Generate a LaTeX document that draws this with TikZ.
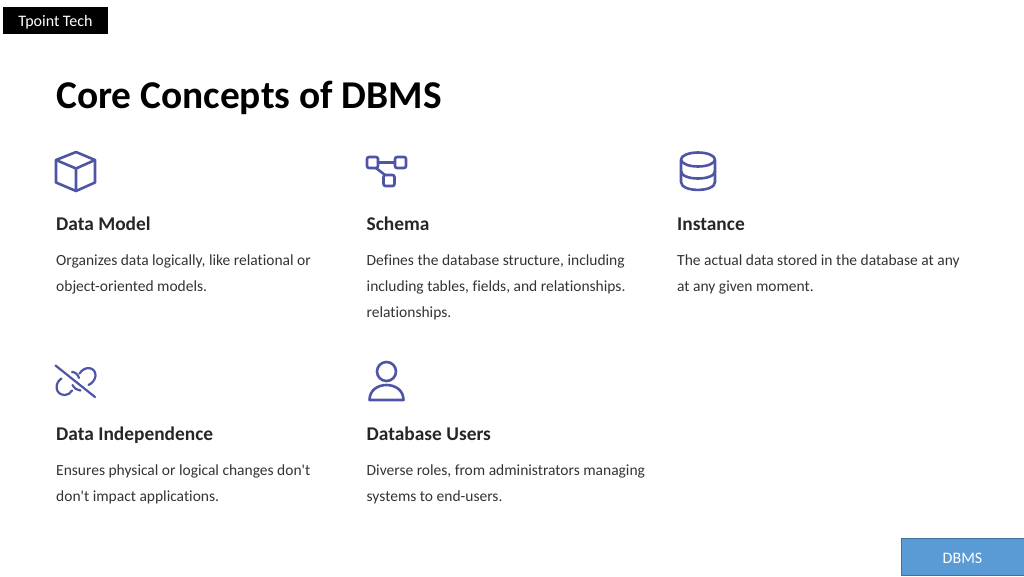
\documentclass[tikz,border=0pt]{standalone}
\usepackage{fontspec}
\newfontfamily\slidefont[Ligatures=NoCommon]{Carlito}
\AtBeginDocument{\slidefont}
\definecolor{iconblue}{HTML}{4F55A5}
\definecolor{headgray}{HTML}{262626}
\definecolor{bodygray}{HTML}{333333}
\definecolor{tagblue}{HTML}{5B9BD5}
\definecolor{tagline}{HTML}{41719C}
\tikzset{
  heading/.style={anchor=base west,inner sep=0pt,text=headgray,font=\fontsize{19.4}{22}\selectfont\bfseries},
  bodytext/.style={anchor=north west,inner sep=0pt,align=left,text=bodygray,font=\fontsize{15.5}{26}\selectfont},
  icon/.style={draw=iconblue,line width=2.6pt,line join=round,line cap=round}
}
\begin{document}
\begin{tikzpicture}[x=1pt,y=-1pt]
    \def\x{310.5}
    \def\y{210}
    \useasboundingbox (0,0) rectangle (1024,576);
    % top tag and title
    \node [fill=black,minimum width=105pt,minimum height=27pt,inner sep=0pt,text=white,font=\fontsize{16}{18}\selectfont] (tag) at (55.5,20.5) {\raisebox{-5.5pt}[0pt][0pt]{Tpoint Tech}};
    \node [anchor=base west,inner sep=0pt,text=black,font=\fontsize{39.4}{42}\selectfont\bfseries] (title) at (56,108) {Core Concepts of DBMS};
    % headings
    \node [heading] (H0_0) at (56+0*\x,230+0*\y) {Data Model};
    \node [heading] (H0_1) at (56+1*\x,230+0*\y) {Schema};
    \node [heading] (H0_2) at (56+2*\x,230+0*\y) {Instance};
    \node [heading] (H1_0) at (56+0*\x,230+1*\y) {Data Independence};
    \node [heading] (H1_1) at (56+1*\x,230+1*\y) {Database Users};
    % texts
    \node [bodytext] (T0_0) at (56+0*\x,254.2+0*\y) {Organizes data logically, like relational or\\object-oriented models.};
    \node [bodytext] (T0_1) at (56+1*\x,254.2+0*\y) {Defines the database structure, including\\including tables, fields, and relationships.\\relationships.};
    \node [bodytext] (T0_2) at (56+2*\x,254.2+0*\y) {The actual data stored in the database at any\\at any given moment.};
    \node [bodytext] (T1_0) at (56+0*\x,254.2+1*\y) {Ensures physical or logical changes don't\\don't impact applications.};
    \node [bodytext] (T1_1) at (56+1*\x,254.2+1*\y) {Diverse roles, from administrators managing\\systems to end-users.};
    % cube
    \draw [icon] (76,152) -- (95,160) -- (95,182.5) -- (76,191) -- (56,182.5) -- (56,160) -- cycle;
    \draw [icon] (56,160) -- (76,168.5) -- (95,160) (76,168.5) -- (76,191);
    % schema
    \draw [icon,rounded corners=2pt] (367,157) rectangle (378,168);
    \draw [icon,rounded corners=2pt] (395,157) rectangle (406,168);
    \draw [icon,rounded corners=2pt] (383.5,175) rectangle (394.5,186);
    \draw [icon] (378,162.5) -- (395,162.5) (376,168) -- (385,175);
    % database
    \draw [icon] (698,159.5) ellipse [x radius=17,y radius=7];
    \draw [icon] (681,171) .. controls (681,181) and (715,181) .. (715,171);
    \draw [icon] (681,160) -- (681,182) .. controls (681,192.5) and (715,192.5) .. (715,182) -- (715,160);
    % broken link
    \draw [icon,line width=2.2pt] (55.5,365.5) -- (95,397);
    \draw [icon,line width=2.2pt] (61.5,378.5) .. controls (54,383) and (55,395) .. (65,395) .. controls (68,395) and (70.5,393) .. (72,390.5);
    \draw [icon,line width=2.2pt] (72,372) .. controls (75.5,372) and (78,374.5) .. (79,378);
    \draw [icon,line width=2.2pt] (72.5,385) .. controls (74.5,388.5) and (77.5,390.5) .. (80.5,390.5);
    \draw [icon,line width=2.2pt] (79.5,373.5) .. controls (85,365) and (96,367) .. (95.5,376) .. controls (95,380) and (92,383.5) .. (88.5,385);
    % person
    \draw [icon] (386.5,371.5) circle [radius=9.5];
    \draw [icon] (369.5,400) .. controls (369.5,380) and (403.5,380) .. (403.5,400) -- cycle;
    % bottom tag
    \node [fill=tagblue,draw=tagline,line width=0.8pt,minimum width=123pt,minimum height=37pt,inner sep=0pt,text=white,font=\fontsize{16}{18}\selectfont] (tab) at (962.5,556.5) {\raisebox{-6.5pt}[0pt][0pt]{DBMS}};
  \end{tikzpicture}
\end{document}
